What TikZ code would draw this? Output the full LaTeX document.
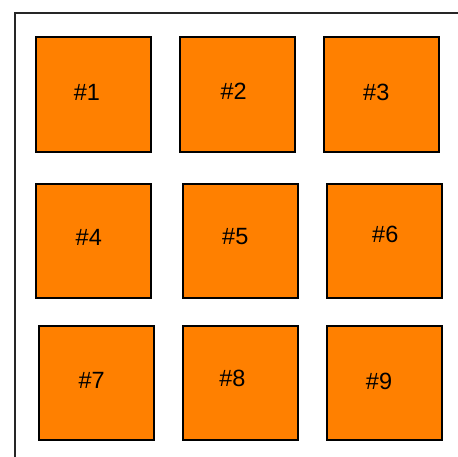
\documentclass[tikz,border=0pt]{standalone}
\usepackage{fontspec}
\setmainfont{Liberation Sans}
\definecolor{boxorange}{RGB}{255,128,0}
\begin{document}
\begin{tikzpicture}[x=1pt, y=-1pt,
    cell/.style={draw=black, line width=2pt, fill=boxorange, minimum width=115pt, minimum height=114.5pt, inner sep=0pt},
    tag/.style={inner sep=0pt, font=\fontsize{23.5}{27}\selectfont}]
  % === 画布范围（与原图同尺寸）===
  \useasboundingbox (0,0) rectangle (458,457);

  % === 外框（右侧与底部超出画面）===
  \draw[black!85, line width=2pt] (15,480) -- (15,13) -- (480,13);

  % === 九个橙色方块（3 × 3）===
  % 编号/方块中心 x/方块中心 y
  \foreach \n/\bx/\by in {1/93/94.5, 2/237/94.5, 3/381/94.5,
                          4/93/241,   5/240/241,  6/384/241,
                          7/96/383,   8/240/383,  9/384/383} {
    \node[cell] (box\n) at (\bx,\by) {};
  }

  % === 方块编号文字 ===
  \foreach \n/\lx/\ly in {1/87/92,     2/233.7/91.7, 3/376.3/92.7,
                          4/88.8/237,  5/235.3/236.7, 6/385.3/234,
                          7/91.7/380.3, 8/232.5/378.3, 9/379/381.7} {
    \node[tag] (lbl\n) at (\lx,\ly) {\#\n};
  }
\end{tikzpicture}
\end{document}
